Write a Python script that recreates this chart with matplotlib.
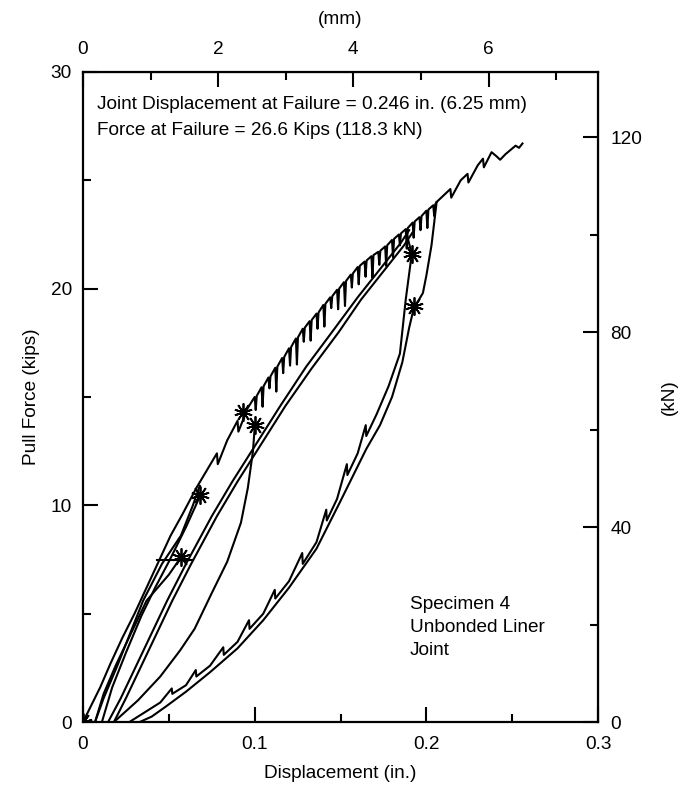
import matplotlib
matplotlib.use("Agg")
import matplotlib.pyplot as plt
from matplotlib.ticker import MultipleLocator

plt.rcParams['font.family'] = ['Liberation Sans', 'DejaVu Sans']
plt.rcParams['font.size'] = 13.7

# envelope, lower smooth part (in. / kips)
env_lo_x = [0, 0.005, 0.01, 0.016, 0.023, 0.03, 0.037, 0.044, 0.051, 0.058, 0.066,
            0.072, 0.078, 0.0785, 0.084, 0.09, 0.0905, 0.096]
env_lo_y = [0, 0.8, 1.6, 2.7, 3.9, 5.0, 6.2, 7.4, 8.6, 9.6, 10.8,
            11.6, 12.4, 11.9, 13.0, 13.9, 13.4, 14.5]
# envelope, jagged part: points on the line and depth of the drop after each
env_mid_x = [0.100, 0.104, 0.108, 0.112, 0.116, 0.120, 0.124, 0.128, 0.132, 0.136,
             0.140, 0.144, 0.148, 0.152, 0.156, 0.160, 0.164, 0.168, 0.172, 0.176,
             0.180, 0.184, 0.188, 0.192, 0.196, 0.200, 0.204]
env_mid_y = [15.0, 15.45, 15.9, 16.35, 16.8, 17.25, 17.7, 18.15, 18.5, 18.85,
             19.25, 19.6, 19.95, 20.3, 20.65, 21.0, 21.25, 21.5, 21.7, 21.95,
             22.25, 22.5, 22.75, 23.05, 23.3, 23.6, 23.85]
env_drop = [0.6, 0.9, 0.5, 1.1, 0.7, 0.8, 1.2, 0.6, 0.9, 0.7,
            1.0, 0.5, 0.9, 1.1, 0.6, 0.8, 0.7, 1.0, 0.6, 0.9,
            0.8, 0.5, 0.9, 0.7, 0.6, 0.8, 0.5]
# envelope, after the last unloading up to failure
env_hi_x = [0.206, 0.210, 0.214, 0.2145, 0.220, 0.224, 0.2245, 0.230, 0.233, 0.2335,
            0.238, 0.241, 0.243, 0.246, 0.249, 0.252, 0.254, 0.256]
env_hi_y = [24.0, 24.3, 24.6, 24.2, 25.0, 25.3, 24.9, 25.7, 26.0, 25.6,
            26.3, 26.1, 25.95, 26.2, 26.4, 26.6, 26.5, 26.7]

# small cycles near the origin
unl1_x = [0.057, 0.05, 0.037, 0.028, 0.019, 0.012, 0.007]
unl1_y = [7.6, 6.8, 5.6, 4.1, 2.6, 1.3, 0]
rel1_x = [0.007, 0.012, 0.02, 0.028, 0.035, 0.046, 0.057, 0.064, 0.068]
rel1_y = [0, 1.1, 2.6, 4.2, 5.6, 7.3, 8.6, 10.0, 10.9]
unl2_x = [0.068, 0.06, 0.05, 0.042, 0.034, 0.025, 0.017, 0.011]
unl2_y = [10.4, 9.0, 7.4, 6.2, 4.9, 3.2, 1.6, 0]
hop_x = [0.043, 0.064]
hop_y = [7.5, 7.5]

# reloading lines (two, nearly parallel)
rel2_x = [0.0146, 0.022, 0.031, 0.04, 0.049, 0.06, 0.075, 0.087, 0.099, 0.115,
          0.13, 0.146, 0.16, 0.175, 0.185, 0.19]
rel2_y = [0, 1.1, 2.6, 4.1, 5.6, 7.3, 9.5, 11.1, 12.6, 14.6,
          16.4, 18.1, 19.6, 21.1, 22.1, 22.7]
rel3_x = [0.018, 0.025, 0.034, 0.043, 0.052, 0.063, 0.078, 0.09, 0.102, 0.118,
          0.133, 0.149, 0.162, 0.177, 0.187, 0.192]
rel3_y = [0, 1.1, 2.6, 4.1, 5.6, 7.3, 9.5, 11.1, 12.6, 14.6,
          16.3, 18.0, 19.5, 21.0, 22.0, 22.6]

# unloading from 0.1 in.
unl3_x = [0.1, 0.099, 0.096, 0.092, 0.084, 0.075, 0.065, 0.0565, 0.045, 0.032, 0.018]
unl3_y = [13.6, 12.5, 10.8, 9.2, 7.4, 5.95, 4.3, 3.3, 2.1, 1.0, 0]

# unloading from 0.19 in. (with small spikes)
unl4_x = [0.188, 0.1915, 0.188, 0.1846, 0.178, 0.171, 0.165, 0.1647, 0.16, 0.154,
          0.1537, 0.148, 0.142, 0.1417, 0.136, 0.128, 0.1277, 0.12, 0.112, 0.1117,
          0.105, 0.097, 0.0967, 0.09, 0.082, 0.0817, 0.074, 0.066, 0.0657, 0.06,
          0.052, 0.0517, 0.045, 0.035, 0.027]
unl4_y = [22.7, 21.6, 19.5, 17.0, 15.5, 14.2, 13.2, 13.7, 12.4, 11.4,
          11.9, 10.3, 9.3, 9.8, 8.3, 7.3, 7.8, 6.5, 5.7, 6.1,
          5.0, 4.3, 4.7, 3.7, 3.1, 3.45, 2.6, 2.1, 2.4, 1.7,
          1.3, 1.55, 0.9, 0.4, 0]

# unloading from 0.206 in.
unl5_x = [0.206, 0.203, 0.2, 0.198, 0.195, 0.193, 0.19, 0.186, 0.18, 0.173,
          0.165, 0.15, 0.136, 0.12, 0.105, 0.09, 0.074, 0.06, 0.048, 0.04, 0.033]
unl5_y = [24.0, 22.0, 20.6, 19.8, 19.4, 19.2, 18.2, 16.6, 15.0, 13.7,
          12.6, 10.2, 8.0, 6.2, 4.7, 3.4, 2.3, 1.4, 0.7, 0.25, 0]

# load-hold (relaxation) points
hold_x = [0, 0.057, 0.068, 0.093, 0.1, 0.1915, 0.193]
hold_y = [0, 7.6, 10.5, 14.3, 13.7, 21.6, 19.2]

xticks = [0, 0.1, 0.2, 0.3]
xticklabels = ['0', '0.1', '0.2', '0.3']
yticks = [0, 10, 20, 30]
mm_ticks = [0, 2, 4, 6]
kn_ticks = [0, 40, 80, 120]

# jagged envelope: each point followed by a sharp drop and recovery
env_x = list(env_lo_x)
env_y = list(env_lo_y)
for xb, yb, d in zip(env_mid_x, env_mid_y, env_drop):
    env_x += [xb, xb + 0.0006, xb + 0.0012]
    env_y += [yb, yb - d, yb + 0.05]
env_x += env_hi_x
env_y += env_hi_y

fig = plt.figure(figsize=(6.85, 7.86), dpi=100)
ax = fig.add_axes([0.1212, 0.0814, 0.7518, 0.827])

branches = [(env_x, env_y), (unl1_x, unl1_y), (rel1_x, rel1_y), (unl2_x, unl2_y),
            (hop_x, hop_y), (rel2_x, rel2_y), (rel3_x, rel3_y), (unl3_x, unl3_y),
            (unl4_x, unl4_y), (unl5_x, unl5_y)]
for bx, by in branches:
    ax.plot(bx, by, color='black', lw=1.5)

ax.plot(hold_x, hold_y, ls='none', marker=(10, 2, 0), ms=13, mew=1.3, color='black')

ax.set_xlim(0, 0.3)
ax.set_ylim(0, 30)
ax.set_xticks(xticks)
ax.set_xticklabels(xticklabels)
ax.set_yticks(yticks)
ax.xaxis.set_minor_locator(MultipleLocator(0.05))
ax.yaxis.set_minor_locator(MultipleLocator(5))
ax.tick_params(which='both', direction='in', width=1.5)
ax.tick_params(which='major', length=11)
ax.tick_params(axis='x', which='major', pad=10)
ax.tick_params(axis='y', which='major', pad=8)
ax.tick_params(which='minor', length=6)
for s in ax.spines.values():
    s.set_linewidth(1.6)

ax.set_xlabel('Displacement (in.)', labelpad=9)
ax.set_ylabel('Pull Force (kips)', labelpad=8)

top = ax.secondary_xaxis('top', functions=(lambda v: v * 25.4, lambda v: v / 25.4))
top.set_xticks(mm_ticks)
top.xaxis.set_minor_locator(MultipleLocator(1))
top.tick_params(which='both', direction='in', width=1.5)
top.tick_params(which='major', length=11, pad=10)
top.tick_params(which='minor', length=6)
top.set_xlabel('(mm)', labelpad=12)

right = ax.secondary_yaxis('right', functions=(lambda v: v * 4.448, lambda v: v / 4.448))
right.set_yticks(kn_ticks)
right.yaxis.set_minor_locator(MultipleLocator(20))
right.tick_params(which='both', direction='in', width=1.5)
right.tick_params(which='major', length=11, pad=9)
right.tick_params(which='minor', length=6)
right.set_ylabel('(kN)', labelpad=13)

ax.text(0.0082, 28.5, 'Joint Displacement at Failure = 0.246 in. (6.25 mm)', va='center')
ax.text(0.0082, 27.3, 'Force at Failure = 26.6 Kips (118.3 kN)', va='center')
ax.text(0.1905, 4.35, 'Specimen 4\nUnbonded Liner\nJoint', va='center', linespacing=1.45)

fig.savefig('out.png', dpi=100)
